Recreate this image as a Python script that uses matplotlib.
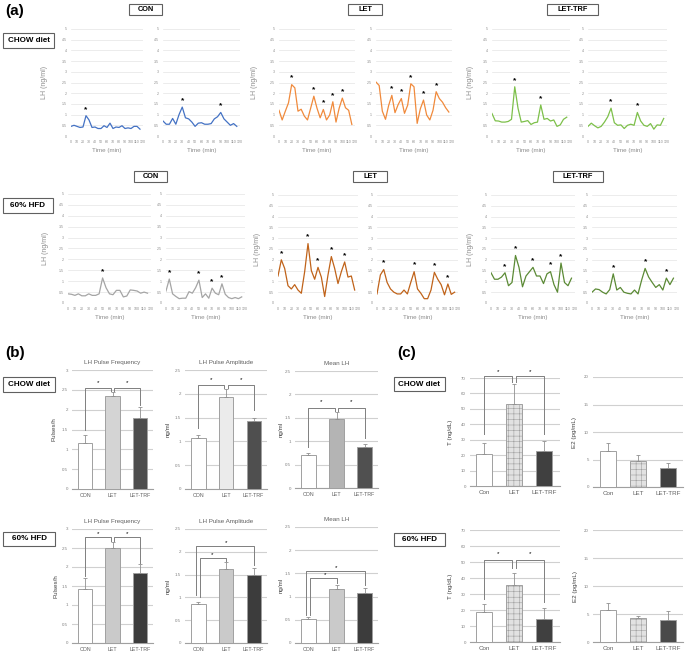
import numpy as np
import matplotlib.pyplot as plt
from matplotlib.patches import Rectangle

plt.rcParams['font.family'] = ['Liberation Sans', 'DejaVu Sans']
plt.rcParams['hatch.linewidth'] = 0.4

W, H = 685, 652

# ---- (a) LH pulse profiles, 5-min sampling ----
time_min = list(range(0, 120, 5))

chow_con_1 = [0.45, 0.5, 0.45, 0.4, 0.42, 0.95, 0.75, 0.4, 0.42, 0.35, 0.35, 0.48,
              0.4, 0.6, 0.35, 0.42, 0.4, 0.48, 0.35, 0.38, 0.35, 0.45, 0.45, 0.32]
chow_con_2 = [0.7, 0.55, 0.55, 0.82, 0.55, 1.0, 1.35, 0.85, 0.8, 0.65, 0.45, 0.6,
              0.62, 0.55, 0.55, 0.58, 0.8, 0.9, 1.1, 0.8, 0.65, 0.5, 0.58, 0.45]
chow_let_1 = [1.2, 0.75, 1.16, 1.55, 2.4, 2.25, 1.16, 1.25, 0.93, 0.75, 1.3, 1.86,
              1.3, 0.85, 1.24, 0.75, 0.98, 1.6, 0.65, 1.3, 1.77, 1.32, 1.2, 0.54]
chow_let_2 = [2.52, 2.36, 1.16, 0.78, 1.43, 1.9, 1.09, 1.47, 1.75, 1.06, 1.44, 2.44,
              2.3, 0.59, 1.27, 1.68, 0.98, 0.75, 1.2, 2.07, 1.75, 1.58, 1.32, 1.12]
chow_trf_1 = [1.05, 0.71, 0.7, 0.65, 0.65, 0.68, 0.78, 2.3, 1.3, 0.65, 0.68, 0.72,
              0.54, 0.62, 0.65, 1.45, 0.78, 0.82, 0.7, 0.75, 0.45, 0.52, 0.78, 0.88]
chow_trf_2 = [0.45, 0.6, 0.48, 0.38, 0.45, 0.65, 0.9, 1.3, 0.62, 0.5, 0.52, 0.35,
              0.5, 0.55, 0.5, 1.1, 0.7, 0.5, 0.45, 0.58, 0.32, 0.52, 0.5, 0.82]
hfd_con_1 = [0.42, 0.4, 0.35, 0.42, 0.33, 0.33, 0.42, 0.35, 0.35, 0.42, 1.15, 0.7,
             0.42, 0.38, 0.58, 0.58, 0.28, 0.32, 0.6, 0.58, 0.55, 0.45, 0.5, 0.45]
hfd_con_2 = [0.55, 1.1, 0.42, 0.3, 0.2, 0.22, 0.22, 0.52, 0.45, 0.7, 1.05, 0.25,
             0.42, 0.22, 0.68, 0.45, 0.38, 0.88, 0.4, 0.25, 0.2, 0.25, 0.2, 0.28]
hfd_let_1 = [1.25, 2.0, 1.6, 0.8, 0.65, 0.85, 0.6, 0.45, 1.45, 2.75, 1.5, 1.1,
             1.65, 1.2, 0.3, 1.3, 2.15, 1.6, 0.9, 1.45, 1.9, 1.2, 1.25, 0.6]
hfd_let_2 = [0.42, 1.3, 1.55, 0.95, 0.65, 0.5, 0.42, 0.42, 0.6, 0.42, 0.95, 1.45,
             0.65, 0.45, 0.2, 0.2, 0.6, 1.42, 1.1, 0.85, 0.38, 0.88, 0.4, 0.5]
hfd_trf_1 = [1.4, 1.1, 1.1, 1.2, 1.4, 0.8, 0.95, 2.2, 1.65, 0.75, 1.25, 1.45,
             1.65, 1.25, 1.25, 0.9, 1.35, 1.45, 0.85, 0.5, 1.85, 0.95, 0.8, 1.15]
hfd_trf_2 = [0.5, 0.65, 0.62, 0.5, 0.42, 0.62, 1.35, 0.6, 0.72, 0.5, 0.45, 0.42,
             0.6, 0.42, 1.05, 1.6, 1.2, 0.95, 0.72, 0.85, 0.6, 1.15, 0.85, 1.15]

# time points marked as pulses
chow_con_1_pulses = [25]
chow_con_2_pulses = [30, 90]
chow_let_1_pulses = [20, 55, 70, 85, 100]
chow_let_2_pulses = [25, 40, 55, 75, 95]
chow_trf_1_pulses = [35, 75]
chow_trf_2_pulses = [35, 75]
hfd_con_1_pulses = [50]
hfd_con_2_pulses = [5, 50, 70, 85]
hfd_let_1_pulses = [5, 45, 60, 80, 100]
hfd_let_2_pulses = [10, 55, 85, 105]
hfd_trf_1_pulses = [20, 35, 60, 85, 100]
hfd_trf_2_pulses = [30, 75, 105]

# ---- (b) LH pulse parameters ----
groups = ['CON', 'LET', 'LET-TRF']
chow_freq = [1.15, 2.35, 1.8]
chow_freq_err = [0.2, 0.1, 0.27]
chow_amp = [1.07, 1.93, 1.42]
chow_amp_err = [0.06, 0.17, 0.08]
chow_mean = [0.7, 1.47, 0.88]
chow_mean_err = [0.04, 0.15, 0.06]
hfd_freq = [1.42, 2.5, 1.85]
hfd_freq_err = [0.3, 0.15, 0.23]
hfd_amp = [0.86, 1.63, 1.5]
hfd_amp_err = [0.04, 0.14, 0.15]
hfd_mean = [0.52, 1.16, 1.07]
hfd_mean_err = [0.03, 0.1, 0.11]

# ---- (c) serum hormones ----
groups_c = ['Con', 'LET', 'LET-TRF']
chow_t = [21, 53, 23]
chow_t_err = [7, 13, 6]
chow_e2 = [6.6, 4.8, 3.5]
chow_e2_err = [1.4, 1.0, 0.9]
hfd_t = [18.5, 35.5, 14.5]
hfd_t_err = [5, 7.5, 6.5]
hfd_e2 = [5.7, 4.2, 3.9]
hfd_e2_err = [1.2, 0.5, 1.6]

GRAY = '#7f7f7f'
fig = plt.figure(figsize=(W / 100, H / 100), dpi=100)


def add_ax(x0, y0, x1, y1):
    # pixel box (left, top, right, bottom) -> figure axes
    return fig.add_axes([x0 / W, 1 - y1 / H, (x1 - x0) / W, (y1 - y0) / H])


def box_label(text, x0, y0, x1, y1, size=5.8):
    fig.add_artist(Rectangle((x0 / W, 1 - y1 / H), (x1 - x0) / W, (y1 - y0) / H,
                             transform=fig.transFigure, fill=False, ec='#606060', lw=0.8))
    fig.text((x0 + x1) / 2 / W, 1 - (y0 + y1) / 2 / H, text, ha='center', va='center',
             fontsize=size, fontweight='bold')


def trace_ax(rect, y, pulses, color, ylabel_px=None):
    ax = add_ax(*rect)
    ax.plot(time_min, y, color=color, lw=0.9)
    for t in pulses:
        v = y[time_min.index(t)]
        ax.text(t, v + 0.3, '*', ha='center', va='center', fontsize=6, fontweight='bold')
    ax.set_xlim(0, 120)
    ax.set_ylim(0, 5)
    ax.set_xticks(range(0, 121, 10))
    ticks = np.arange(0, 5.01, 0.5)
    ax.set_yticks(ticks)
    ax.set_yticklabels([f'{v:g}' for v in ticks])
    ax.grid(axis='y', color='#e4e4e4', lw=0.5)
    for s in ax.spines.values():
        s.set_visible(False)
    ax.tick_params(length=0, labelsize=2.6, colors='#8c8c8c', pad=3)
    ax.set_xlabel('Time (min)', fontsize=4.5, color='#8c8c8c', labelpad=3)
    if ylabel_px is not None:
        ax.set_ylabel('LH (ng/ml)', fontsize=5, color='#8c8c8c')
        ax.yaxis.set_label_coords((ylabel_px - rect[0]) / (rect[2] - rect[0]), 0.5)
    return ax


def bar_ax(rect, vals, errs, colors, hatches, labels, xlim, ylim, ystep, ylabel,
           ylabel_px, title=None, bar_w=0.52, label_size=3.8, ylabel_size=4.5):
    ax = add_ax(*rect)
    x = np.arange(len(vals))
    for i in x:
        ax.bar(i, vals[i], width=bar_w, color=colors[i], edgecolor='#a0a0a0',
               hatch=hatches[i], lw=0.7, zorder=3)
    ax.errorbar(x, vals, yerr=[[0] * len(vals), errs], fmt='none', ecolor='#909090',
                elinewidth=0.6, capsize=1.5, capthick=0.6, zorder=4)
    ax.set_xlim(*xlim)
    ax.set_ylim(*ylim)
    ticks = np.arange(ylim[0], ylim[1] + 1e-6, ystep)
    ax.set_yticks(ticks)
    ax.set_yticklabels([f'{v:g}' for v in ticks])
    ax.set_xticks(x)
    ax.set_xticklabels(labels)
    ax.grid(axis='y', color='#d0d0d0', lw=0.8, zorder=0)
    for s in ['top', 'right', 'left']:
        ax.spines[s].set_visible(False)
    ax.spines['bottom'].set_color('#a0a0a0')
    ax.tick_params(axis='y', length=0, labelsize=3.2, colors='#808080', pad=3)
    ax.tick_params(axis='x', length=0, labelsize=label_size, colors='#606060', pad=3)
    ax.set_ylabel(ylabel, fontsize=ylabel_size, color='#404040')
    ax.yaxis.set_label_coords((ylabel_px - rect[0]) / (rect[2] - rect[0]), 0.5)
    if title:
        ax.set_title(title, fontsize=4.5, color='#606060', pad=4)
    return ax


def bracket(ax, x1, x2, y, leg1, leg2, star_x=None, star_y=None):
    ax.plot([x1, x1, x2, x2], [leg1, y, y, leg2], color=GRAY, lw=0.7, clip_on=False, zorder=5)
    if star_x is None:
        star_x = (x1 + x2) / 2
    ax.text(star_x, star_y, '*', ha='center', va='center', fontsize=4.5, clip_on=False)


# ---------------- panel (a) ----------------
fig.text(5 / W, 1 - 11 / H, '(a)', fontsize=11, fontweight='bold', va='center')
box_label('CON', 129, 4, 162, 15, 5.3)
box_label('LET', 348, 4, 382, 15, 5.3)
box_label('LET-TRF', 547, 4, 598, 15, 5.3)
box_label('CHOW diet', 3, 33, 54, 48)
box_label('CON', 134, 171, 167, 182, 5.3)
box_label('LET', 353, 171, 387, 182, 5.3)
box_label('LET-TRF', 553, 171, 603, 182, 5.3)
box_label('60% HFD', 3, 198, 53, 213)

trace_ax((71, 29, 143, 136), chow_con_1, chow_con_1_pulses, '#4472c4', 48)
trace_ax((163, 29, 240, 136), chow_con_2, chow_con_2_pulses, '#4472c4')
trace_ax((279, 29, 355, 136), chow_let_1, chow_let_1_pulses, '#f08a3c', 258)
trace_ax((376, 29, 452, 136), chow_let_2, chow_let_2_pulses, '#f08a3c')
trace_ax((492, 29, 570, 136), chow_trf_1, chow_trf_1_pulses, '#7dc04a', 474)
trace_ax((588, 29, 667, 136), chow_trf_2, chow_trf_2_pulses, '#7dc04a')

trace_ax((68, 194, 151, 303), hfd_con_1, hfd_con_1_pulses, '#a5a5a5', 49)
trace_ax((166, 194, 245, 303), hfd_con_2, hfd_con_2_pulses, '#a5a5a5')
trace_ax((278, 195, 358, 303), hfd_let_1, hfd_let_1_pulses, '#c0631a', 261)
trace_ax((377, 195, 458, 303), hfd_let_2, hfd_let_2_pulses, '#c0631a')
trace_ax((491, 195, 575, 303), hfd_trf_1, hfd_trf_1_pulses, '#5b8a35', 474)
trace_ax((592, 195, 677, 303), hfd_trf_2, hfd_trf_2_pulses, '#5b8a35')

# ---------------- panel (b) ----------------
fig.text(5 / W, 1 - 353 / H, '(b)', fontsize=11, fontweight='bold', va='center')
box_label('CHOW diet', 3, 377, 55, 392)
box_label('60% HFD', 3, 532, 55, 546)

xl = (-0.48, 2.48)
ax = bar_ax((72, 370, 153, 489), chow_freq, chow_freq_err, ['white', '#d4d4d4', '#4d4d4d'],
            [None] * 3, groups, xl, (0, 3), 0.5, 'Pulses/h', 57, 'LH Pulse Frequency')
bracket(ax, 0, 0.93, 2.55, 1.5, 2.48, star_y=2.68)
bracket(ax, 1.07, 2, 2.55, 2.48, 2.12, star_y=2.68)

ax = bar_ax((185, 370, 267, 489), chow_amp, chow_amp_err, ['white', '#ebebeb', '#4f4f4f'],
            [None] * 3, groups, xl, (0, 2.5), 0.5, 'ng/ml', 171, 'LH Pulse Amplitude')
bracket(ax, 0, 0.93, 2.19, 1.28, 2.13, star_y=2.3)
bracket(ax, 1.07, 2, 2.19, 2.13, 1.65, star_y=2.3)

ax = bar_ax((295, 371, 378, 488), chow_mean, chow_mean_err, ['white', '#b4b4b4', '#505050'],
            [None] * 3, groups, xl, (0, 2.5), 0.5, 'ng/ml', 284, 'Mean LH')
bracket(ax, 0, 0.93, 1.72, 0.88, 1.64, star_y=1.84)
bracket(ax, 1.07, 2, 1.72, 1.64, 1.06, star_y=1.84)

hfd_colors = ['white', '#cacaca', '#3c3c3c']
ax = bar_ax((72, 529, 153, 643), hfd_freq, hfd_freq_err, hfd_colors,
            [None] * 3, groups, xl, (0, 3), 0.5, 'Pulses/h', 58, 'LH Pulse Frequency')
bracket(ax, 0, 0.93, 2.78, 1.76, 2.68, star_y=2.88)
bracket(ax, 1.07, 2, 2.78, 2.68, 2.1, star_y=2.88)

ax = bar_ax((185, 529, 267, 643), hfd_amp, hfd_amp_err, hfd_colors,
            [None] * 3, groups, xl, (0, 2.5), 0.5, 'ng/ml', 171, 'LH Pulse Amplitude')
bracket(ax, -0.08, 2, 2.13, 1.05, 1.7, star_x=1, star_y=2.21)
bracket(ax, 0.05, 1, 1.86, 1.0, 1.8, star_x=0.5, star_y=1.94)

ax = bar_ax((295, 527, 378, 643), hfd_mean, hfd_mean_err, hfd_colors,
            [None] * 3, groups, xl, (0, 2.5), 0.5, 'ng/ml', 284, 'Mean LH')
bracket(ax, -0.08, 2, 1.55, 0.6, 1.24, star_x=1, star_y=1.63)
bracket(ax, 0.05, 1, 1.4, 0.6, 1.3, star_x=0.6, star_y=1.47)

# ---------------- panel (c) ----------------
fig.text(397 / W, 1 - 353 / H, '(c)', fontsize=11, fontweight='bold', va='center')
box_label('CHOW diet', 394, 377, 445, 391)
box_label('60% HFD', 394, 533, 445, 546)

c_colors = ['white', '#e2e2e2', '#404040']
c_hatch = [None, '+++', None]
ax = bar_ax((470, 378, 560, 486), chow_t, chow_t_err, c_colors, c_hatch, groups_c,
            (-0.47, 2.53), (0, 70), 10, 'T (ng/dL)', 453, bar_w=0.55, label_size=4.5,
            ylabel_size=4.5)
bracket(ax, 0, 0.93, 71, 34, 67.5, star_y=74.5)
bracket(ax, 1.07, 2, 71, 67.5, 34, star_y=74.5)

ax = bar_ax((593, 377, 683, 487), chow_e2, chow_e2_err, ['white', '#e2e2e2', '#404040'],
            c_hatch, groups_c, (-0.5, 2.5), (0, 20), 5, 'E2 (pg/mL)', 577, bar_w=0.55,
            label_size=4.5, ylabel_size=4.5)

ax = bar_ax((470, 530, 560, 642), hfd_t, hfd_t_err, c_colors, c_hatch, groups_c,
            (-0.47, 2.53), (0, 70), 10, 'T (ng/dL)', 453, bar_w=0.55, label_size=4.5,
            ylabel_size=4.5)
bracket(ax, 0, 0.93, 51.5, 27, 46, star_y=55.5)
bracket(ax, 1.07, 2, 51.5, 46, 25, star_y=55.5)

ax = bar_ax((593, 530, 683, 642), hfd_e2, hfd_e2_err, ['white', '#e2e2e2', '#4a4a4a'],
            c_hatch, groups_c, (-0.5, 2.5), (0, 20), 5, 'E2 (pg/mL)', 578, bar_w=0.55,
            label_size=4.5, ylabel_size=4.5)

fig.savefig('out.png', dpi=100)
